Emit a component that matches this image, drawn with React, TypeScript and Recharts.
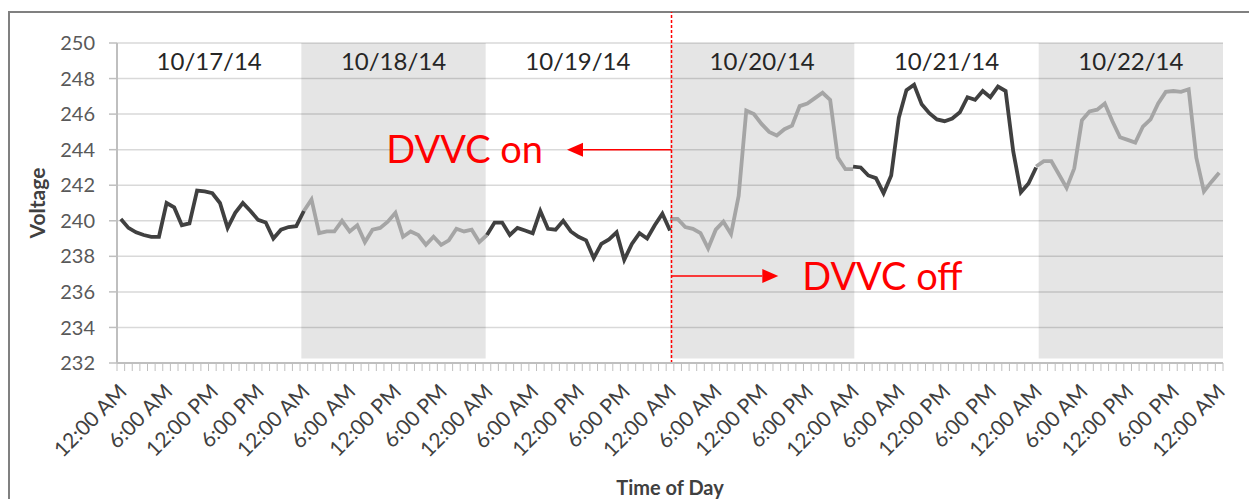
import React from "react";
import {
  LineChart,
  Line,
  XAxis,
  YAxis,
  CartesianGrid,
  ReferenceArea,
  ReferenceLine,
} from "recharts";

// Day labels shown across the top of the plot
const DATES = ["10/17/14", "10/18/14", "10/19/14", "10/20/14", "10/21/14", "10/22/14"];

// Time-of-day labels, repeated every 6 hours
const TIME_LABELS = ["12:00 AM", "6:00 AM", "12:00 PM", "6:00 PM"];

const Y_TICKS = [232, 234, 236, 238, 240, 242, 244, 246, 248, 250];

// Hourly voltage readings, one array per day (25 points: 12 AM .. next 12 AM)
const DAY1_DARK = [
  240.1, 239.6, 239.35, 239.2, 239.1, 239.1, 241.0, 240.75, 239.75, 239.85, 241.7, 241.65, 241.55,
  241.0, 239.6, 240.45, 241.0, 240.55, 240.05, 239.9, 239.0, 239.5, 239.65, 239.7, 240.55,
];
const DAY2_LIGHT = [
  240.55, 241.2, 239.3, 239.4, 239.4, 240.0, 239.4, 239.75, 238.8, 239.5, 239.6, 239.95, 240.45,
  239.1, 239.4, 239.2, 238.65, 239.1, 238.65, 238.9, 239.55, 239.4, 239.5, 238.8, 239.2,
];
const DAY3_DARK = [
  239.2, 239.9, 239.9, 239.2, 239.6, 239.45, 239.3, 240.55, 239.55, 239.5, 240.0, 239.4, 239.1,
  238.9, 237.9, 238.7, 238.95, 239.35, 237.8, 238.7, 239.3, 239.0, 239.75, 240.4, 239.45,
];
const DAY4_LIGHT = [
  240.1, 240.1, 239.65, 239.55, 239.3, 238.45, 239.5, 239.95, 239.25, 241.4, 246.2, 246.0, 245.45,
  245.0, 244.8, 245.15, 245.35, 246.45, 246.6, 246.9, 247.2, 246.8, 243.55, 242.9, 242.9,
];
const DAY5_DARK = [
  243.05, 243.0, 242.55, 242.4, 241.55, 242.55, 245.8, 247.35, 247.65, 246.55, 246.05, 245.7, 245.6,
  245.75, 246.1, 246.95, 246.8, 247.3, 246.95, 247.55, 247.3, 243.9, 241.6, 242.1, 243.0,
];
const DAY6_LIGHT = [
  243.05, 243.35, 243.35, 242.6, 241.85, 242.95, 245.65, 246.15, 246.25, 246.6, 245.6, 244.7, 244.55,
  244.4, 245.3, 245.7, 246.6, 247.25, 247.3, 247.25, 247.4, 243.55, 241.65, 242.2, 242.7,
];

const DARK_DAYS: [number, number[]][] = [
  [0, DAY1_DARK],
  [2, DAY3_DARK],
  [4, DAY5_DARK],
];
const LIGHT_DAYS: [number, number[]][] = [
  [1, DAY2_LIGHT],
  [3, DAY4_LIGHT],
  [5, DAY6_LIGHT],
];

const HOURS = 24;
const TOTAL_HOURS = HOURS * DATES.length;
const X_MIN = -0.5;
const X_MAX = TOTAL_HOURS + 0.5;
const DAY_SPAN = (X_MAX - X_MIN) / DATES.length;

function valueAt(days: [number, number[]][], h: number) {
  for (const [d, vals] of days) {
    const i = h - d * HOURS;
    if (i >= 0 && i < vals.length) return vals[i];
  }
  return null;
}

const chartData = Array.from({ length: TOTAL_HOURS + 1 }, (_, h) => ({
  h,
  dark: valueAt(DARK_DAYS, h),
  light: valueAt(LIGHT_DAYS, h),
}));

// tick marks sit between hourly categories
const X_TICKS = Array.from({ length: TOTAL_HOURS + 2 }, (_, i) => i - 0.5);

const RED = "#ff0000";

function TimeTick({ x, y, payload }: any) {
  const cat = Math.round(payload.value + 0.5);
  if (cat % 6 !== 0) return null;
  const label = TIME_LABELS[(cat % HOURS) / 6];
  const ax = x + 11;
  const ay = y + 22;
  return (
    <text
      x={ax}
      y={ay}
      transform={`rotate(-45 ${ax} ${ay})`}
      textAnchor="end"
      fontSize={21}
      fill="#404040"
    >
      {label}
    </text>
  );
}

function arrowShape(text: string) {
  return (props: any) => {
    const { x1, y1, x2, y2 } = props;
    const dir = Math.sign(x2 - x1);
    const head = 16;
    const half = 7;
    return (
      <g>
        <line x1={x1} y1={y1} x2={x2 - dir * head} y2={y2} stroke={RED} strokeWidth={1.5} />
        <polygon
          points={`${x2},${y2} ${x2 - dir * head},${y2 - half} ${x2 - dir * head},${y2 + half}`}
          fill={RED}
        />
        <text
          x={x2 + dir * 24}
          y={y2}
          dy="0.36em"
          textAnchor={dir < 0 ? "end" : "start"}
          fontSize={38}
          fill={RED}
        >
          {text}
        </text>
      </g>
    );
  };
}

const VoltageTitle = (p: any) => {
  const vb = p.viewBox;
  const cx = vb.x + 38;
  const cy = vb.y + vb.height / 2;
  return (
    <text
      x={cx}
      y={cy}
      transform={`rotate(-90 ${cx} ${cy})`}
      textAnchor="middle"
      dy="0.35em"
      fontSize={21}
      fontWeight="bold"
      fill="#404040"
    >
      Voltage
    </text>
  );
};

export default function App() {
  return (
    <div
      style={{
        position: "relative",
        width: 1249,
        height: 499,
        overflow: "hidden",
        background: "#fff",
        fontFamily: "Lato, sans-serif",
      }}
    >
      <style>{"body { margin: 0; }"}</style>
      <div
        style={{
          position: "absolute",
          left: 8,
          top: 11,
          width: 1400,
          height: 700,
          borderLeft: "2px solid #808080",
          borderTop: "2px solid #808080",
        }}
      />
      <LineChart
        width={1249}
        height={499}
        data={chartData}
        margin={{ top: 43, right: 26, bottom: 0, left: 0 }}
      >
        <CartesianGrid vertical={false} stroke="#d9d9d9" strokeWidth={1.5} />
        {DATES.map((d, i) => (
          <ReferenceArea
            key={d}
            x1={X_MIN + i * DAY_SPAN}
            x2={X_MIN + (i + 1) * DAY_SPAN}
            y1={232.25}
            y2={250}
            fill={i % 2 ? "#000000" : "none"}
            fillOpacity={i % 2 ? 0.1 : 0}
            stroke="none"
            ifOverflow="visible"
            label={{ value: d, position: "insideTop", offset: 10, fontSize: 24, fill: "#262626" }}
          />
        ))}
        <XAxis
          dataKey="h"
          type="number"
          domain={[X_MIN, X_MAX]}
          ticks={X_TICKS}
          interval={0}
          height={136}
          tickSize={8}
          tickMargin={0}
          axisLine={{ stroke: "#bfbfbf", strokeWidth: 2 }}
          tickLine={{ stroke: "#bfbfbf", strokeWidth: 1 }}
          tick={<TimeTick />}
          label={{
            value: "Time of Day",
            position: "insideBottom",
            offset: 4,
            fontSize: 20,
            fontWeight: "bold",
            fill: "#404040",
          }}
        />
        <YAxis
          domain={[232, 250]}
          ticks={Y_TICKS}
          interval={0}
          width={117}
          tickSize={8}
          tickMargin={14}
          axisLine={{ stroke: "#bfbfbf", strokeWidth: 2 }}
          tickLine={{ stroke: "#bfbfbf", strokeWidth: 1.5 }}
          tick={{ fill: "#595959", fontSize: 20 }}
          label={VoltageTitle}
        />
        <Line
          dataKey="light"
          type="linear"
          stroke="#a5a5a5"
          strokeWidth={3.8}
          dot={false}
          isAnimationActive={false}
        />
        <Line
          dataKey="dark"
          type="linear"
          stroke="#404040"
          strokeWidth={3.8}
          dot={false}
          isAnimationActive={false}
        />
        <ReferenceLine
          segment={[
            { x: 72.2, y: 232 },
            { x: 72.2, y: 251.75 },
          ]}
          stroke={RED}
          strokeWidth={1.5}
          strokeDasharray="3 2"
          ifOverflow="visible"
        />
        <ReferenceLine
          segment={[
            { x: 72.2, y: 244 },
            { x: 58.5, y: 244 },
          ]}
          ifOverflow="visible"
          shape={arrowShape("DVVC on")}
        />
        <ReferenceLine
          segment={[
            { x: 72.2, y: 236.9 },
            { x: 86.2, y: 236.9 },
          ]}
          ifOverflow="visible"
          shape={arrowShape("DVVC off")}
        />
      </LineChart>
    </div>
  );
}
